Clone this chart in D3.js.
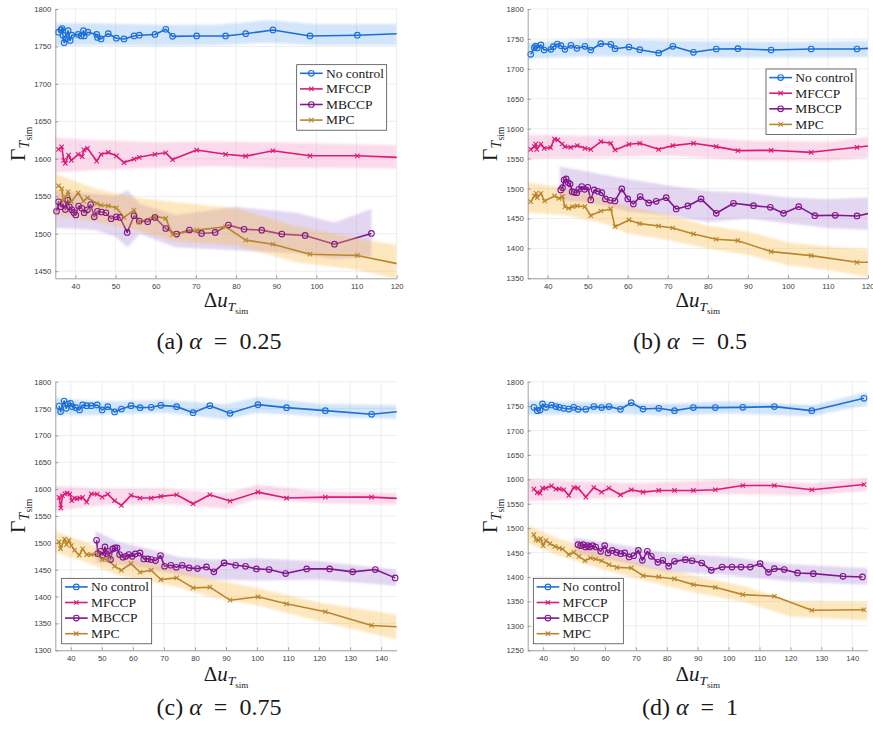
<!DOCTYPE html>
<html lang="en">
<head>
<meta charset="UTF-8">
<title>Gamma vs delta u, four alpha values</title>
<script src="https://d3js.org/d3.v7.min.js"></script>
<style>
  body { margin: 0; background: #fff; }
</style>
</head>
<body>
<svg width="873" height="730"></svg>
<script>
// ---------- data: [x, y] points, bands are [x, lower, upper] ----------
const seriesNames = ['No control', 'MFCCP', 'MBCCP', 'MPC'];
const captions = ['(a)', '(b)', '(c)', '(d)'];
const alphaValues = ['0.25', '0.5', '0.75', '1'];

const xTicksAB = [40, 50, 60, 70, 80, 90, 100, 110, 120];
const xTicksCD = [40, 50, 60, 70, 80, 90, 100, 110, 120, 130, 140];
const yTicksA = [1450, 1500, 1550, 1600, 1650, 1700, 1750, 1800];
const yTicksB = [1350, 1400, 1450, 1500, 1550, 1600, 1650, 1700, 1750, 1800];
const yTicksC = [1300, 1350, 1400, 1450, 1500, 1550, 1600, 1650, 1700, 1750, 1800];
const yTicksD = [1250, 1300, 1350, 1400, 1450, 1500, 1550, 1600, 1650, 1700, 1750, 1800];

// (a) alpha = 0.25
const a_noControl = [[35.8,1769],[36.4,1772],[36.7,1774],[36.9,1765],[37.2,1755],[37.6,1760],[38.2,1771],[38.7,1758],[39.1,1765],[40.7,1766],[41.4,1764],[42.0,1771],[42.2,1764],[43.1,1769],[45.3,1766],[45.5,1762],[46.4,1760],[48.2,1767],[50.2,1761],[52.1,1760],[54.6,1764],[55.9,1765],[59.8,1766],[62.5,1773],[64.2,1763.5],[70.2,1764],[77.4,1764],[82.4,1767],[89.2,1772],[98.4,1764],[110.2,1765],[122,1767.4]];
const a_mfccp = [[35.8,1612.6],[36.6,1616],[37.1,1598],[37.5,1594],[38.3,1605],[39.0,1598],[40.7,1606],[41.7,1603],[42.1,1612],[43.0,1614],[45.3,1597],[46.4,1606],[48.2,1608.5],[50.2,1604],[52.1,1595],[54.6,1599.6],[55.9,1602],[59.8,1606],[62.5,1608],[64.2,1599],[70.2,1611.7],[77.4,1606],[82.4,1603.6],[89.2,1610.8],[98.4,1604],[110.2,1604],[122,1601.6]];
const a_mbccp = [[35.3,1530],[35.8,1542.6],[36.4,1536],[36.9,1539.6],[37.5,1532.4],[38.1,1545],[38.5,1536],[39.1,1532],[39.6,1528.4],[40.1,1525],[40.8,1537],[41.6,1534],[42.2,1528],[43.0,1532],[43.8,1539],[44.7,1522.6],[45.5,1530],[46.5,1529],[47.6,1528],[48.9,1520],[50.2,1522.6],[51.1,1521.7],[52.9,1501.7],[54.6,1524],[55.9,1517],[58.0,1516],[59.8,1521.7],[62.5,1507],[65.2,1499.5],[68.4,1505],[71.4,1500.4],[74.8,1501.7],[78.1,1511.5],[82.0,1506],[86.4,1504.8],[91.4,1499.5],[97.2,1497.7],[104.5,1486],[113.7,1500.4]];
const a_mpc = [[35.8,1564],[36.6,1560],[37.0,1543.5],[37.6,1549],[38.2,1556],[39.0,1542.7],[40.7,1554.7],[42.0,1543.5],[43.0,1548],[45.3,1540.4],[46.4,1538],[48.2,1537.3],[50.2,1534.6],[52.1,1521.7],[54.6,1531.5],[55.9,1515.5],[59.8,1523.5],[62.5,1520.4],[64.2,1499],[70.2,1504.8],[77.4,1509.3],[82.4,1491.5],[89.2,1486],[98.4,1472.7],[110.2,1471],[122,1458]];
const a_noControlBand = [[35,1751,1781],[45,1752,1781],[60,1751,1779],[75,1752,1779],[88,1755,1785],[100,1752,1780],[120,1752,1780]];
const a_mfccpBand = [[35,1582,1628],[45,1585,1625],[60,1588,1622],[75,1590,1623],[90,1588,1622],[105,1588,1620],[120,1587,1618]];
const a_mbccpBand = [[35,1508,1558],[45,1505,1553],[50,1496,1550],[53,1482,1558],[56,1500,1540],[65,1482,1525],[80,1478,1536],[95,1474,1528],[104.5,1466,1515],[113.7,1470,1533]];
const a_mpcBand = [[35,1525,1580],[45,1516,1560],[55,1505,1548],[65,1490,1542],[80,1484,1534],[95,1462,1510],[110,1452,1494],[120,1440,1485]];

// (b) alpha = 0.5
const b_noControl = [[35.75,1724.3],[36.67,1735.4],[37.0,1738],[37.4,1735],[38.3,1740],[39.1,1731.5],[40.8,1732.6],[41.4,1737],[42.4,1741.5],[43.3,1738.7],[44.3,1732.6],[45.8,1739.3],[47.3,1734.3],[49.3,1737.6],[50.75,1731.5],[53.25,1742],[55.75,1741],[56.8,1733.7],[60.3,1736.5],[63.0,1732],[67.7,1726.5],[71.25,1737.6],[76.4,1727.6],[82.1,1733.2],[87.5,1733.7],[95.8,1731.5],[105.8,1733.2],[117.25,1733.2],[122,1735]];
const b_mfccp = [[35.75,1565.5],[36.67,1570],[37.0,1574.4],[37.25,1565.5],[38.3,1574.4],[39.1,1567.2],[40.7,1568.3],[41.7,1582.8],[42.5,1581.1],[43.6,1574.4],[44.3,1570],[45.75,1568.9],[47.4,1571.7],[49.3,1567.2],[50.75,1565.5],[53.3,1578.3],[55.75,1575.6],[56.8,1564.4],[60.3,1573.9],[63.0,1575.6],[67.7,1565.5],[71.25,1571.7],[76.4,1575.6],[82.1,1570],[87.5,1563.3],[95.8,1563.9],[105.8,1560.5],[117.25,1568.9],[122,1572.5]];
const b_mbccp = [[43.25,1497.6],[43.7,1501.5],[44.1,1514.3],[44.6,1516],[45.1,1510],[45.6,1507.6],[46.1,1494.8],[46.6,1493.7],[47.25,1493.1],[47.75,1498.7],[48.5,1503.2],[49.2,1498.7],[50.0,1502],[50.75,1480.9],[51.6,1497.6],[52.5,1495.4],[53.5,1493.1],[54.4,1482.6],[55.6,1480.3],[56.8,1479.2],[58.5,1499.3],[60.0,1482.6],[61.4,1474.2],[63.1,1486.5],[65.2,1475.9],[67.1,1478.7],[69.6,1484.8],[72.1,1465.9],[75.0,1470.9],[78.3,1482.6],[82.1,1458.6],[86.4,1475.3],[91.4,1471.4],[95.6,1468.6],[98.9,1458.6],[102.7,1469.7],[106.7,1454.7],[111.8,1455.3],[117.25,1454.2],[122,1461]];
const b_mpc = [[35.75,1478.1],[36.7,1487.6],[37.1,1492],[37.4,1484.8],[38.3,1492],[39.2,1479.2],[41.7,1487.6],[42.8,1483.7],[43.7,1486.5],[44.3,1469.7],[45.25,1467],[46.2,1469.7],[47.4,1470.9],[49.3,1469.7],[50.75,1454.7],[53.3,1462.5],[55.75,1465.9],[56.8,1436.3],[60.3,1447.5],[63.0,1441.3],[67.7,1437.4],[71.25,1434.1],[76.4,1424.1],[82.1,1415.2],[87.5,1412.9],[95.8,1394.6],[105.8,1387.9],[117.25,1376.7],[122,1376.7]];
const b_noControlBand = [[35,1717,1743],[50,1721,1750],[60,1721,1749],[80,1719,1746],[100,1719,1745],[120,1720,1747]];
const b_mfccpBand = [[35,1550,1590],[50,1552,1588],[70,1555,1589],[90,1547,1580],[110,1546,1578],[120,1552,1586]];
const b_mbccpBand = [[43,1480,1537],[50,1477,1528],[60,1462,1516],[70,1455,1505],[80,1444,1496],[90,1450,1493],[100,1442,1485],[110,1434,1482],[120,1431,1485]];
const b_mpcBand = [[35,1460,1510],[45,1455,1500],[55,1440,1482],[60,1425,1470],[70,1414,1456],[80,1400,1438],[90,1389,1428],[100,1372,1410],[110,1364,1403],[120,1352,1398]];

// (c) alpha = 0.75
const c_noControl = [[36.2,1754.8],[36.7,1744.3],[37.85,1764],[38.5,1750.5],[39.1,1758.5],[39.9,1759.8],[40.5,1753.6],[41.6,1751.7],[42.8,1747.4],[43.8,1756.7],[45.1,1755.4],[46.6,1755.4],[48.5,1756.7],[50.1,1747.4],[51.9,1753.6],[54.1,1743.7],[56.3,1749.2],[59.4,1755.4],[62.3,1751.7],[65.9,1752.3],[69.0,1756],[74.1,1753.6],[79.4,1742.4],[84.8,1755.4],[91.3,1741.2],[100.3,1757.3],[109.5,1751.7],[122.0,1746.1],[136.9,1739.3],[147,1745.3]];
const c_mfccp = [[36.2,1584.6],[36.8,1564.8],[37.3,1587.7],[38.1,1591.4],[38.8,1592.6],[39.7,1590.8],[40.3,1578.4],[41.2,1583.4],[42.0,1582.1],[42.9,1583.4],[43.8,1584.6],[45.1,1575.9],[46.6,1591.4],[48.5,1590.8],[50.1,1585.2],[51.9,1590.8],[54.1,1578.4],[56.3,1569.7],[59.4,1588.3],[62.3,1583.4],[65.9,1583.4],[69.0,1586.5],[74.1,1589.5],[79.4,1572.8],[84.8,1589.5],[91.3,1577.8],[100.3,1594.5],[109.5,1583.4],[122.0,1585.2],[136.9,1585.2],[147,1582.2]];
const c_mbccp = [[48.3,1504.8],[48.7,1480],[49.6,1484.3],[50.3,1476.9],[51.0,1492.4],[51.5,1480],[52.0,1484.3],[52.8,1468.9],[53.5,1488.7],[54.2,1490.5],[54.9,1490.5],[55.7,1478.1],[56.8,1473.2],[57.7,1475],[58.7,1478.1],[59.8,1475],[60.8,1479.4],[62.3,1481.2],[63.5,1470.1],[64.8,1470.1],[65.9,1468.9],[67.3,1467],[68.9,1476.3],[70.2,1456.5],[72.2,1458.3],[74.0,1454.6],[75.9,1458.3],[78.1,1453.4],[80.8,1452.1],[83.7,1455.2],[86.1,1446],[89.4,1462.7],[93.1,1458.3],[96.3,1456.5],[99.8,1451.5],[103.9,1450.3],[109.2,1442.9],[116.0,1451.5],[123.4,1451.5],[130.8,1446],[138.1,1450.3],[144.5,1434.8]];
const c_mpc = [[36.2,1501.7],[36.7,1489.3],[38.0,1507.2],[38.6,1496.7],[39.4,1504.8],[40.2,1494.8],[41.2,1486.2],[42.7,1476.9],[43.8,1488.7],[45.1,1478.1],[46.6,1478.1],[48.5,1478.1],[50.1,1468.9],[51.9,1468.9],[54.1,1456.5],[56.3,1449.1],[59.4,1461.4],[62.3,1445.3],[65.9,1449.1],[69.0,1431.7],[74.1,1434.8],[79.4,1416.2],[84.8,1417.5],[91.3,1393.3],[100.3,1399.6],[109.5,1386.5],[122.0,1371.7],[136.9,1346.3],[147,1343.3]];
const c_noControlBand = [[35,1737,1770],[50,1738,1763],[70,1742,1766],[90,1730,1758],[100,1742,1771],[120,1735,1759],[145,1731,1756]];
const c_mfccpBand = [[35,1560,1606],[50,1570,1601],[70,1572,1601],[90,1564,1592],[100,1581,1608],[120,1574,1596],[145,1571,1593]];
const c_mbccpBand = [[48,1465,1522],[55,1460,1502],[65,1452,1489],[75,1440,1473],[85,1432,1469],[100,1430,1471],[120,1432,1466],[145,1420,1450]];
const c_mpcBand = [[35,1482,1521],[45,1464,1501],[55,1440,1476],[65,1428,1466],[75,1417,1451],[85,1399,1433],[100,1384,1416],[120,1354,1389],[145,1320,1366]];

// (d) alpha = 1
const d_noControl = [[37.0,1747.5],[38.1,1740.7],[39.0,1742],[39.8,1754.4],[40.9,1747.5],[42.7,1752.3],[44.1,1749],[45.2,1747.5],[46.7,1745.5],[48.3,1744],[49.9,1747.5],[51.3,1743.5],[53.8,1743.5],[56.4,1749],[58.9,1747],[61.3,1749],[65.0,1743.5],[68.5,1757],[72.3,1744],[77.4,1745.5],[82.5,1740.7],[88.6,1747],[95.7,1747],[104.6,1747.5],[114.8,1749],[126.9,1740.7],[143.8,1766]];
const d_mfccp = [[37.0,1580],[38.1,1573],[39.0,1571.9],[39.8,1582.1],[40.9,1582.1],[42.7,1586.8],[44.1,1580],[45.2,1580.6],[46.7,1578.7],[48.3,1567],[49.9,1583.4],[51.3,1582.1],[53.8,1563.7],[56.4,1583.4],[58.9,1573.9],[61.3,1582.1],[65.0,1568.4],[68.5,1578.7],[72.3,1573.9],[77.4,1577.3],[82.5,1577.3],[88.6,1577.3],[95.7,1578.7],[104.6,1587.5],[114.8,1587.5],[126.9,1578.7],[143.8,1589.5]];
const d_mbccp = [[51.3,1466.3],[52.1,1464.2],[52.9,1466.3],[53.7,1461.5],[54.4,1464.2],[55.1,1461.5],[56.0,1464.2],[57.0,1461.5],[58.6,1452.6],[59.9,1464.2],[61.0,1449.3],[62.4,1454.6],[63.7,1450.5],[65.1,1447.9],[66.4,1449.3],[67.8,1441.1],[69.3,1443.8],[70.8,1454.6],[72.1,1434.2],[73.7,1452.6],[75.0,1442.4],[77.1,1430.1],[78.7,1434.2],[80.6,1422.2],[82.5,1432.1],[86.0,1435.6],[88.2,1433.4],[91.3,1428.8],[94.4,1413.7],[97.9,1420.5],[101.1,1420.5],[104.0,1420.5],[107.0,1420.5],[110.2,1427.4],[112.9,1409.6],[114.8,1417.2],[118.0,1415.2],[122.3,1408.4],[127.4,1407],[137.0,1401.5],[143.3,1400.2]];
const d_mpc = [[37.0,1486.7],[37.7,1476.5],[38.4,1475.1],[39.2,1478.5],[40.0,1464.2],[40.9,1474.4],[42.2,1468.3],[43.8,1462.8],[45.2,1459.5],[46.3,1457.5],[48.3,1445.8],[49.9,1450.5],[51.6,1442.4],[53.5,1433.4],[55.3,1439],[57.0,1437],[58.9,1433.4],[61.3,1425.4],[63.9,1419.9],[68.5,1418.6],[72.3,1402.9],[77.4,1400.2],[82.5,1396.1],[88.6,1384.5],[95.7,1379],[104.6,1364],[114.8,1360.7],[126.9,1332],[143.8,1333]];
const d_noControlBand = [[35,1732,1761],[60,1735,1758],[80,1731,1755],[100,1735,1760],[127,1729,1752],[145,1753,1779]];
const d_mfccpBand = [[35,1555,1601],[50,1559,1596],[70,1564,1592],[100,1570,1600],[127,1567,1592],[145,1577,1603]];
const d_mbccpBand = [[50,1449,1481],[60,1437,1471],[70,1424,1461],[80,1411,1449],[100,1404,1441],[120,1391,1426],[145,1384,1418]];
const d_mpcBand = [[35,1469,1506],[45,1444,1479],[60,1414,1449],[75,1389,1421],[90,1367,1401],[105,1349,1381],[120,1319,1351],[145,1311,1349]];

// ---------- styling ----------
const lineColors = ['#1b6fd8', '#dc1a77', '#82168e', '#b9862c'];
const bandFills = ['rgba(90,160,240,0.27)', 'rgba(240,100,170,0.24)', 'rgba(160,120,210,0.30)', 'rgba(250,185,70,0.34)'];
const markerKind = ['circle', 'cross', 'circle', 'cross'];
const serif = '"Liberation Serif", "DejaVu Serif", serif';
const sans = '"Liberation Sans", Arial, sans-serif';

const panels = [
    { id: 'a', left: 55.3, right: 396.7, top: 9, bottom: 278.3, xDom: [35, 120], yDom: [1440.5, 1800], xTicks: xTicksAB, yTicks: yTicksA,
      series: [a_noControl, a_mfccp, a_mbccp, a_mpc], bands: [a_noControlBand, a_mfccpBand, a_mbccpBand, a_mpcBand],
      legend: [296.7, 64.7], yLab: [25, 144], xLabY: 307, capX: 219, capY: 349 },
    { id: 'b', left: 527.7, right: 868, top: 9, bottom: 278.3, xDom: [35, 120], yDom: [1350, 1800], xTicks: xTicksAB, yTicks: yTicksB,
      series: [b_noControl, b_mfccp, b_mbccp, b_mpc], bands: [b_noControlBand, b_mfccpBand, b_mbccpBand, b_mpcBand],
      legend: [766, 69], yLab: [497, 144], xLabY: 307, capX: 690, capY: 349 },
    { id: 'c', left: 55.3, right: 396.7, top: 381.7, bottom: 650.3, xDom: [35, 145], yDom: [1300, 1800], xTicks: xTicksCD, yTicks: yTicksC,
      series: [c_noControl, c_mfccp, c_mbccp, c_mpc], bands: [c_noControlBand, c_mfccpBand, c_mbccpBand, c_mpcBand],
      legend: [61.7, 578.3], yLab: [25, 516], xLabY: 681, capX: 219, capY: 715 },
    { id: 'd', left: 527.7, right: 867.7, top: 381.7, bottom: 650.3, xDom: [35, 145], yDom: [1250, 1800], xTicks: xTicksCD, yTicks: yTicksD,
      series: [d_noControl, d_mfccp, d_mbccp, d_mpc], bands: [d_noControlBand, d_mfccpBand, d_mbccpBand, d_mpcBand],
      legend: [533.3, 578.3], yLab: [497, 516], xLabY: 681, capX: 690, capY: 715 }
];

let svg = d3.select('svg');
let defs = svg.append('defs');
defs.append('filter').attr('id', 'soft')
    .attr('x', '-5%').attr('y', '-30%').attr('width', '110%').attr('height', '160%')
    .append('feGaussianBlur').attr('stdDeviation', 1.3);

function drawMarker(g, kind, cx, cy, color) {
    if (kind === 'circle') {
        g.append('circle').attr('cx', cx).attr('cy', cy).attr('r', 2.8)
            .attr('fill', 'none').attr('stroke', color).attr('stroke-width', 1.1);
    } else {
        g.append('path')
            .attr('d', `M${cx - 2.2},${cy - 2.2}L${cx + 2.2},${cy + 2.2}M${cx - 2.2},${cy + 2.2}L${cx + 2.2},${cy - 2.2}`)
            .attr('stroke', color).attr('stroke-width', 1.1);
    }
}

panels.forEach(function (p, pi) {
    let x = d3.scaleLinear().domain(p.xDom).range([p.left, p.right]);
    let y = d3.scaleLinear().domain(p.yDom).range([p.bottom, p.top]);
    let g = svg.append('g');

    // grid
    g.append('g').selectAll('line').data(p.xTicks).join('line')
        .attr('x1', d => x(d)).attr('x2', d => x(d)).attr('y1', p.top).attr('y2', p.bottom)
        .attr('stroke', '#e6e6e6').attr('stroke-width', 0.7);
    g.append('g').selectAll('line').data(p.yTicks).join('line')
        .attr('x1', p.left).attr('x2', p.right).attr('y1', d => y(d)).attr('y2', d => y(d))
        .attr('stroke', '#e6e6e6').attr('stroke-width', 0.7);

    defs.append('clipPath').attr('id', 'clip-' + p.id).append('rect')
        .attr('x', p.left).attr('y', p.top).attr('width', p.right - p.left).attr('height', p.bottom - p.top);
    let plot = g.append('g').attr('clip-path', `url(#clip-${p.id})`);

    let area = d3.area().x(d => x(d[0])).y0(d => y(d[1])).y1(d => y(d[2]));
    let line = d3.line().x(d => x(d[0])).y(d => y(d[1]));

    // band then line for each series, in legend order
    p.series.forEach(function (pts, si) {
        plot.append('path').datum(p.bands[si]).attr('d', area)
            .attr('fill', bandFills[si]).attr('filter', 'url(#soft)');
        plot.append('path').datum(pts).attr('d', line)
            .attr('fill', 'none').attr('stroke', lineColors[si]).attr('stroke-width', 1.6)
            .attr('stroke-linejoin', 'round');
        let mg = g.append('g');
        pts.filter(d => d[0] >= p.xDom[0] && d[0] <= p.xDom[1])
            .forEach(d => drawMarker(mg, markerKind[si], x(d[0]), y(d[1]), lineColors[si]));
    });

    // axes
    let xAxis = g.append('g').attr('transform', `translate(0,${p.bottom})`)
        .call(d3.axisBottom(x).tickValues(p.xTicks).tickFormat(d3.format('d'))
            .tickSize(-3).tickSizeOuter(0).tickPadding(5));
    let yAxis = g.append('g').attr('transform', `translate(${p.left},0)`)
        .call(d3.axisLeft(y).tickValues(p.yTicks).tickFormat(d3.format('d'))
            .tickSize(-3).tickSizeOuter(0).tickPadding(4));
    [xAxis, yAxis].forEach(function (ax) {
        ax.select('.domain').attr('stroke', '#8a8a8a').attr('stroke-width', 0.8);
        ax.selectAll('.tick line').attr('stroke', '#8a8a8a').attr('stroke-width', 0.8);
        ax.selectAll('.tick text').attr('fill', '#3c3c3c').style('font-family', sans).style('font-size', '7.7px');
    });
    // keep the right-most x label inside the page
    xAxis.selectAll('.tick text').filter(d => x(d) > 862).attr('text-anchor', 'end').attr('dx', '6px');

    // y label: Gamma_{T_sim}
    let yl = g.append('text')
        .attr('transform', `translate(${p.yLab[0]},${p.yLab[1]}) rotate(-90)`)
        .attr('text-anchor', 'middle').style('font-family', serif).attr('fill', '#1a1a1a');
    yl.append('tspan').text('Γ').style('font-size', '22px');
    yl.append('tspan').text('T').style('font-size', '14px').style('font-style', 'italic').attr('dy', 4);
    yl.append('tspan').text('sim').style('font-size', '9.5px').attr('dy', 3);

    // x label: Delta u_{T_sim}
    let xl = g.append('text')
        .attr('x', (p.left + p.right) / 2).attr('y', p.xLabY)
        .attr('text-anchor', 'middle').style('font-family', serif).attr('fill', '#1a1a1a');
    xl.append('tspan').text('Δ').style('font-size', '21px');
    xl.append('tspan').text('u').style('font-size', '21px').style('font-style', 'italic');
    xl.append('tspan').text('T').style('font-size', '13.5px').style('font-style', 'italic').attr('dy', 4);
    xl.append('tspan').text('sim').style('font-size', '9px').attr('dy', 3);

    // caption
    let cap = svg.append('text').attr('x', p.capX).attr('y', p.capY)
        .attr('text-anchor', 'middle').style('font-family', serif).style('font-size', '24px').attr('fill', '#1a1a1a');
    cap.append('tspan').text(captions[pi] + ' ');
    cap.append('tspan').text('α').style('font-style', 'italic');
    cap.append('tspan').text('\u2002=\u2002' + alphaValues[pi]);

    // legend
    let lg = g.append('g').attr('transform', `translate(${p.legend[0]},${p.legend[1]})`);
    lg.append('rect').attr('width', 90).attr('height', 65.5)
        .attr('fill', '#fff').attr('stroke', '#333').attr('stroke-width', 0.7);
    seriesNames.forEach(function (name, si) {
        let ly = 8.6 + si * 15.6;
        lg.append('line').attr('x1', 3.3).attr('x2', 26).attr('y1', ly).attr('y2', ly)
            .attr('stroke', lineColors[si]).attr('stroke-width', 1.6);
        drawMarker(lg, markerKind[si], 14.6, ly, lineColors[si]);
        lg.append('text').attr('x', 29.3).attr('y', ly + 4.3).text(name)
            .style('font-family', serif).style('font-size', '13.5px').attr('fill', '#1a1a1a');
    });
});
</script>
</body>
</html>
